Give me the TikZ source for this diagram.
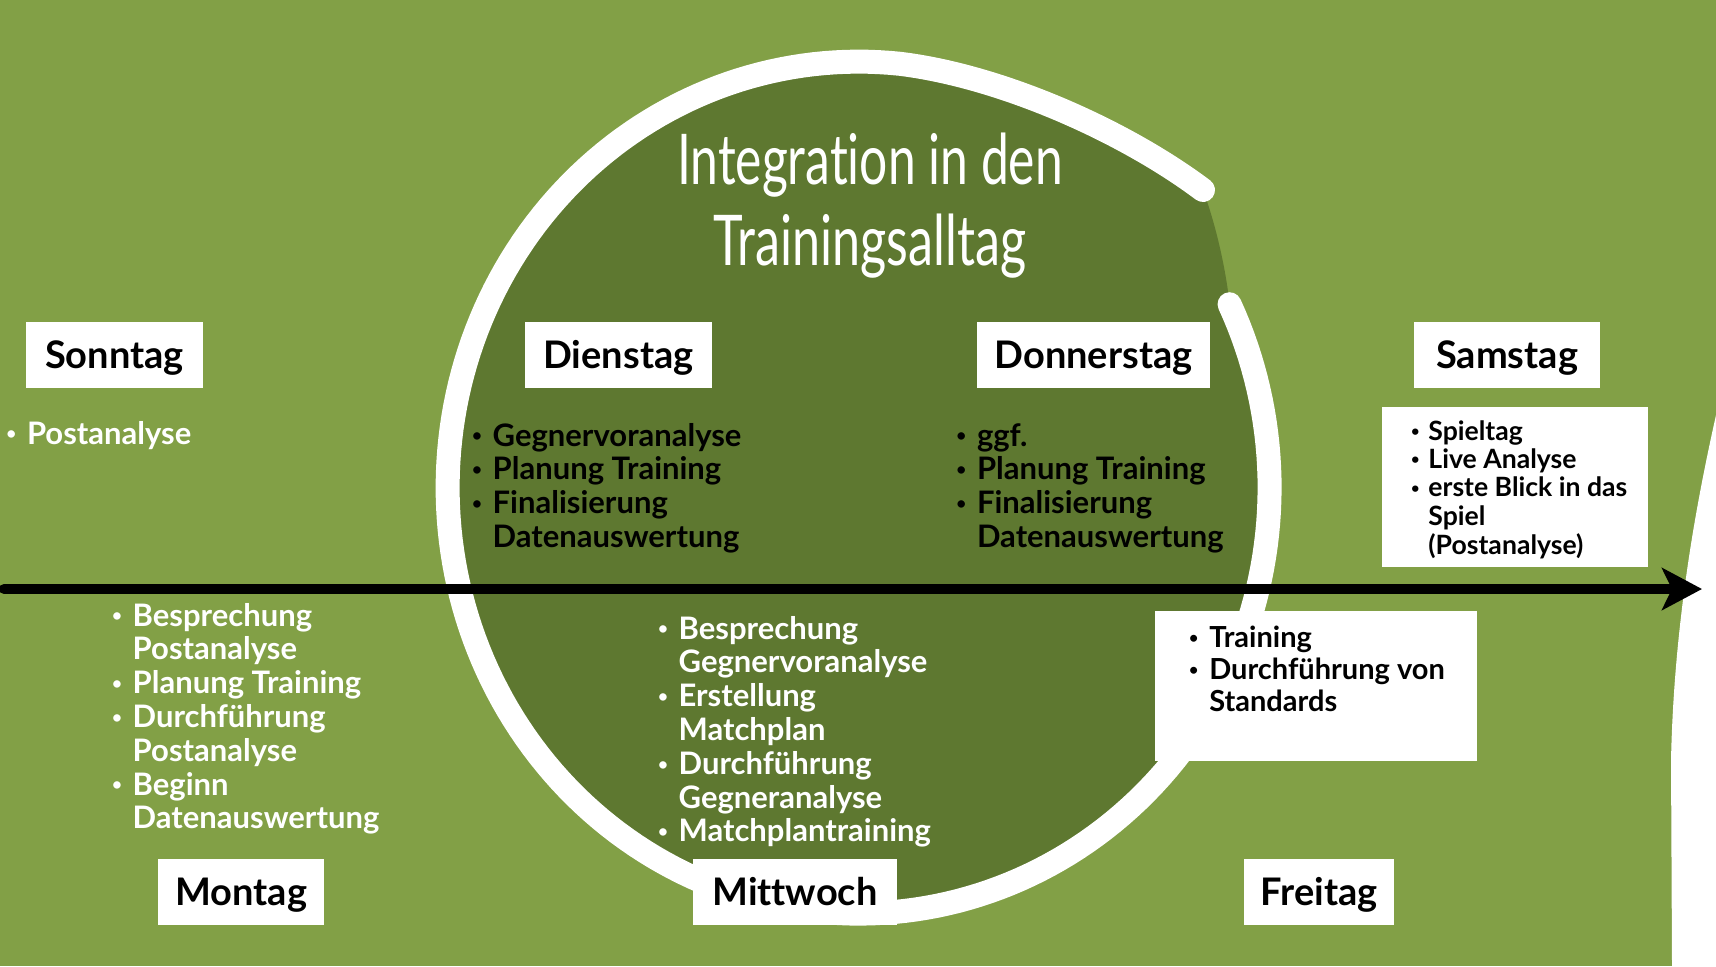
\documentclass[tikz,border=0pt]{standalone}
\usepackage{fontspec}
\setmainfont{Lato}[Ligatures={NoCommon}]
\usepackage{graphicx}
\usetikzlibrary{arrows.meta}
\definecolor{grass}{HTML}{82A046}
\definecolor{grassdark}{HTML}{5E7830}
\newlength\bgap
\setlength\bgap{5.3pt}
\newcommand{\bul}{\raisebox{0.13em}{\scalebox{0.55}{\textbullet}}}
\newcommand{\bi}{\makebox[5pt]{\bul}\hspace*{\bgap}}
\newcommand{\ii}{\hspace*{5pt}\hspace*{\bgap}}
\begin{document}
\begin{tikzpicture}[x=0.5pt,y=-0.5pt,
  daybox/.style={fill=white, inner sep=0pt, minimum height=33pt, text height=13.6pt, text depth=0pt, font=\bfseries\fontsize{19}{22}\selectfont, text=black},
  panel/.style={fill=white, inner sep=0pt},
  listw/.style={anchor=base west, inner sep=0pt, text=white, font=\bfseries\fontsize{15.5}{16.9}\selectfont},
  listb/.style={listw, text=black},
  ring/.style={draw=white, line width=12pt, line cap=round, line join=round},
  titletext/.style={anchor=base, inner sep=0pt, text=white, font=\fontsize{35}{40}\selectfont},
  timeline/.style={line width=5pt, line cap=round, -{Stealth[length=20pt,width=21pt,inset=5pt]}},
]
\useasboundingbox (0,0) rectangle (1716,966);
% background
\fill[grass] (0,0) rectangle (1716,966);
\fill[white] (1716,415) .. controls (1697,500) and (1674,620) .. (1671,760) -- (1672,966) -- (1716,966) -- cycle;
% dark interior of the cycle
\fill[grassdark] (1203,190) .. controls (1123,130) and (1000,76) .. (900,63.8)
  -- plot[domain=84.2:385.5,samples=200] ({858.6+411*cos(\x)},{487.6-426*sin(\x)})
  .. controls (1226,270) and (1216,225) .. (1203,190) -- cycle;
% white ring
\draw[ring] (1203,190) .. controls (1123,130) and (1000,76) .. (900,63.8)
  -- plot[domain=84.2:385.5,samples=200] ({858.6+411*cos(\x)},{487.6-426*sin(\x)});
% timeline arrow
\coordinate (tstart) at (4,589);
\coordinate (tend) at (1702,589);
\draw[timeline] (tstart) -- (tend);
% title
\node[titletext] (title1) at (870,184) {\resizebox{193pt}{\height}{Integration in den}};
\node[titletext] (title2) at (870,265) {\resizebox{156.5pt}{\height}{Trainingsalltag}};
% day labels
\node[daybox, minimum width=88.3pt] (sonntag) at (114.4,354.5) {Sonntag};
\node[daybox, minimum width=93.2pt] (dienstag) at (618.4,354.5) {Dienstag};
\node[daybox, minimum width=116.6pt] (donnerstag) at (1093.5,354.5) {Donnerstag};
\node[daybox, minimum width=93pt] (samstag) at (1507,354.5) {Samstag};
\node[daybox, minimum width=82.8pt] (montag) at (241.2,891.5) {Montag};
\node[daybox, minimum width=101.7pt] (mittwoch) at (795,891.5) {Mittwoch};
\node[daybox, minimum width=75pt] (freitag) at (1319,891.5) {Freitag};
% white panels
\node[panel, minimum width=133pt, minimum height=79.9pt] (samstagPanel) at (1515,487) {};
\node[panel, minimum width=161.2pt, minimum height=75.2pt] (freitagPanel) at (1316,685.8) {};
% lists
\node[listw] (sonntagList) at (6,444) {\begin{tabular}[t]{@{}l@{}}\bi Postanalyse\end{tabular}};
\node[listb] (dienstagList) at (471.7,446) {\begin{tabular}[t]{@{}l@{}}\bi Gegnervoranalyse\\ \bi Planung Training\\ \bi Finalisierung\\ \ii Datenauswertung\end{tabular}};
\node[listb] (donnerstagList) at (956,446) {\begin{tabular}[t]{@{}l@{}}\bi ggf.\\ \bi Planung Training\\ \bi Finalisierung\\ \ii Datenauswertung\end{tabular}};
\node[listw] (montagList) at (111.7,626) {\begin{tabular}[t]{@{}l@{}}\bi Besprechung\\ \ii Postanalyse\\ \bi Planung Training\\ \bi Durchführung\\ \ii Postanalyse\\ \bi Beginn\\ \ii Datenauswertung\end{tabular}};
\node[listw] (mittwochList) at (657.7,639) {\begin{tabular}[t]{@{}l@{}}\bi Besprechung\\ \ii Gegnervoranalyse\\ \bi Erstellung\\ \ii Matchplan\\ \bi Durchführung\\ \ii Gegneranalyse\\ \bi Matchplantraining\end{tabular}};
\node[listb, font=\bfseries\fontsize{13.3}{14.2}\selectfont] (samstagList) at (1410,440) {\setlength\bgap{4pt}\begin{tabular}[t]{@{}l@{}}\bi Spieltag\\ \bi Live Analyse\\ \bi erste Blick in das\\ \ii Spiel\\ \ii (Postanalyse)\end{tabular}};
\node[listb, font=\bfseries\fontsize{14.5}{16}\selectfont] (freitagList) at (1188.3,647.5) {\begin{tabular}[t]{@{}l@{}}\bi Training\\ \bi Durchführung von\\ \ii Standards\end{tabular}};
\end{tikzpicture}
\end{document}
